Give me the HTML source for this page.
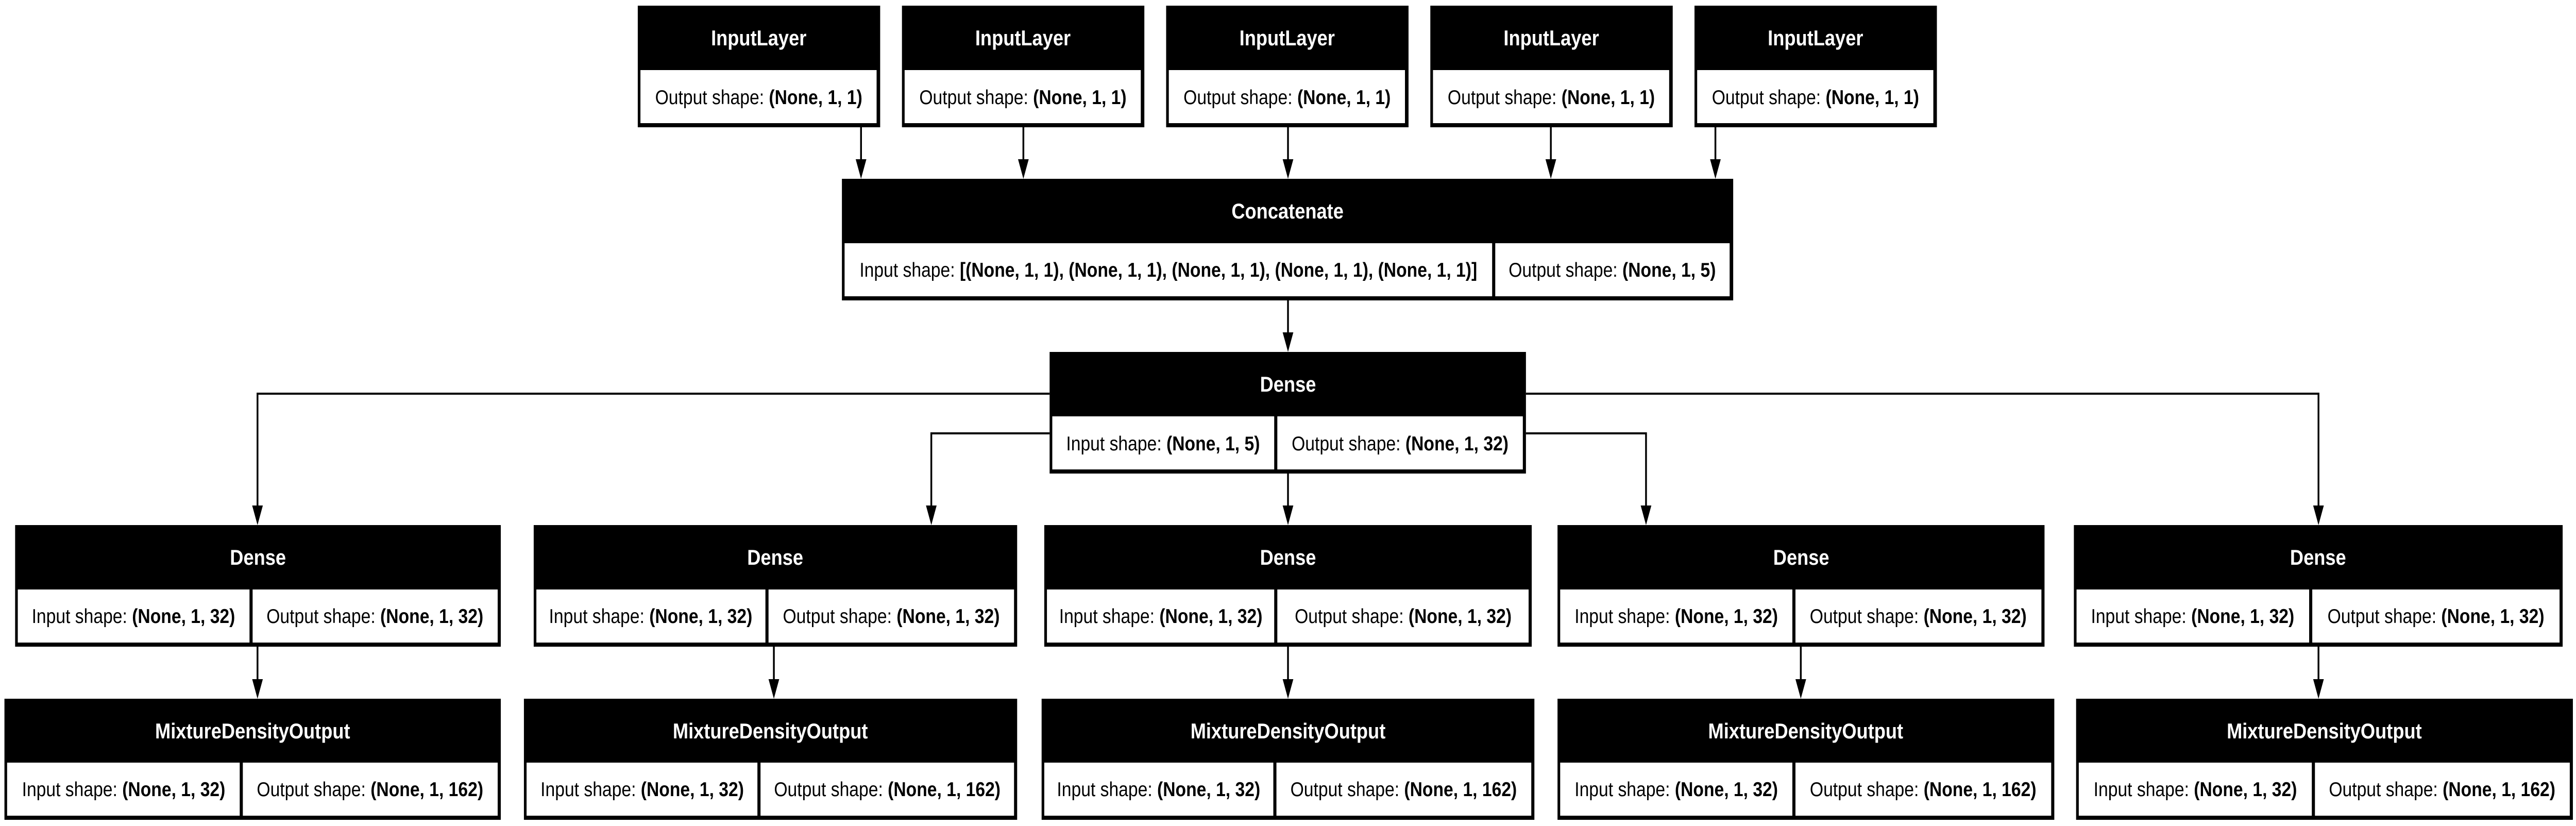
<!DOCTYPE html>
<html><head><meta charset="utf-8"><style>
html,body{margin:0;padding:0;background:#fff;width:100%;height:100%;overflow:hidden}
svg{display:block;width:100vw;height:100vh}
text{font-family:"Liberation Sans",Arial,sans-serif}
.t{fill:#fff;font-size:42px;font-weight:bold;text-anchor:middle}
.c{fill:#000;font-size:39px;text-anchor:middle}
.b{font-weight:bold}
.w{fill:#fff}
.l{stroke:#000;stroke-width:4;fill:none}
</style></head><body>
<svg viewBox="0 0 5792 1603" preserveAspectRatio="none" xmlns="http://www.w3.org/2000/svg">
<rect width="5792" height="1603" fill="#fff"/>

<g>
<rect x="1434" y="11" width="545" height="236"/><rect class="w" x="1440" y="136" width="531" height="103"/>
<text class="t" x="1706" y="88">InputLayer</text><text class="c" x="1706" y="202">Output shape: <tspan class="b">(None, 1, 1)</tspan></text>
<rect x="2028" y="11" width="545" height="236"/><rect class="w" x="2034" y="136" width="531" height="103"/>
<text class="t" x="2300" y="88">InputLayer</text><text class="c" x="2300" y="202">Output shape: <tspan class="b">(None, 1, 1)</tspan></text>
<rect x="2622" y="11" width="545" height="236"/><rect class="w" x="2628" y="136" width="531" height="103"/>
<text class="t" x="2894" y="88">InputLayer</text><text class="c" x="2894" y="202">Output shape: <tspan class="b">(None, 1, 1)</tspan></text>
<rect x="3216" y="11" width="545" height="236"/><rect class="w" x="3222" y="136" width="531" height="103"/>
<text class="t" x="3488" y="88">InputLayer</text><text class="c" x="3488" y="202">Output shape: <tspan class="b">(None, 1, 1)</tspan></text>
<rect x="3810" y="11" width="545" height="236"/><rect class="w" x="3816" y="136" width="531" height="103"/>
<text class="t" x="4082" y="88">InputLayer</text><text class="c" x="4082" y="202">Output shape: <tspan class="b">(None, 1, 1)</tspan></text>
</g>

<path class="l" d="M1936 247V311M2301 247V311M2896 247V311M3487 247V311M3857 247V311"/>
<polygon points="1936,347 1924,309 1948,309"/>
<polygon points="2301,347 2289,309 2313,309"/>
<polygon points="2896,347 2884,309 2908,309"/>
<polygon points="3487,347 3475,309 3499,309"/>
<polygon points="3857,347 3845,309 3869,309"/>

<rect x="1893" y="347" width="2004" height="236"/>
<rect class="w" x="1899" y="472" width="1456" height="103"/>
<rect class="w" x="3362" y="472" width="527" height="103"/>
<text class="t" x="2895" y="424">Concatenate</text>
<text class="c" x="2627" y="537">Input shape: <tspan class="b">[(None, 1, 1), (None, 1, 1), (None, 1, 1), (None, 1, 1), (None, 1, 1)]</tspan></text>
<text class="c" x="3625" y="537">Output shape: <tspan class="b">(None, 1, 5)</tspan></text>

<path class="l" d="M2896 583V647"/>
<polygon points="2896,683 2884,645 2908,645"/>

<rect x="2360" y="683" width="1071" height="236"/>
<rect class="w" x="2366" y="808" width="499" height="103"/>
<rect class="w" x="2872" y="808" width="552" height="103"/>
<text class="t" x="2896" y="760">Dense</text>
<text class="c" x="2615" y="874">Input shape: <tspan class="b">(None, 1, 5)</tspan></text>
<text class="c" x="3148" y="874">Output shape: <tspan class="b">(None, 1, 32)</tspan></text>

<path class="l" d="M2360 764H579V983M3431 764H5213V983M2360 841H2094V983M3431 841H3701V983M2896 919V983"/>
<polygon points="579,1019 567,981 591,981"/>
<polygon points="2094,1019 2082,981 2106,981"/>
<polygon points="2896,1019 2884,981 2908,981"/>
<polygon points="3701,1019 3689,981 3713,981"/>
<polygon points="5213,1019 5201,981 5225,981"/>

<g>
<rect x="34" y="1019" width="1092" height="236"/><rect class="w" x="40" y="1144" width="521" height="103"/><rect class="w" x="568" y="1144" width="551" height="103"/>
<text class="t" x="580" y="1096">Dense</text>
<text class="c" x="300" y="1209">Input shape: <tspan class="b">(None, 1, 32)</tspan></text>
<text class="c" x="843" y="1209">Output shape: <tspan class="b">(None, 1, 32)</tspan></text>

<rect x="1200" y="1019" width="1087" height="236"/><rect class="w" x="1206" y="1144" width="515" height="103"/><rect class="w" x="1728" y="1144" width="552" height="103"/>
<text class="t" x="1743" y="1096">Dense</text>
<text class="c" x="1463" y="1209">Input shape: <tspan class="b">(None, 1, 32)</tspan></text>
<text class="c" x="2004" y="1209">Output shape: <tspan class="b">(None, 1, 32)</tspan></text>

<rect x="2348" y="1019" width="1096" height="236"/><rect class="w" x="2354" y="1144" width="511" height="103"/><rect class="w" x="2872" y="1144" width="565" height="103"/>
<text class="t" x="2896" y="1096">Dense</text>
<text class="c" x="2610" y="1209">Input shape: <tspan class="b">(None, 1, 32)</tspan></text>
<text class="c" x="3155" y="1209">Output shape: <tspan class="b">(None, 1, 32)</tspan></text>

<rect x="3502" y="1019" width="1095" height="236"/><rect class="w" x="3508" y="1144" width="522" height="103"/><rect class="w" x="4037" y="1144" width="553" height="103"/>
<text class="t" x="4050" y="1096">Dense</text>
<text class="c" x="3769" y="1209">Input shape: <tspan class="b">(None, 1, 32)</tspan></text>
<text class="c" x="4313" y="1209">Output shape: <tspan class="b">(None, 1, 32)</tspan></text>

<rect x="4663" y="1019" width="1099" height="236"/><rect class="w" x="4669" y="1144" width="523" height="103"/><rect class="w" x="5199" y="1144" width="556" height="103"/>
<text class="t" x="5212" y="1096">Dense</text>
<text class="c" x="4930" y="1209">Input shape: <tspan class="b">(None, 1, 32)</tspan></text>
<text class="c" x="5477" y="1209">Output shape: <tspan class="b">(None, 1, 32)</tspan></text>
</g>

<path class="l" d="M579 1255V1320M1740 1255V1320M2896 1255V1320M4049 1255V1320M5213 1255V1320"/>
<polygon points="579,1356 567,1318 591,1318"/>
<polygon points="1740,1356 1728,1318 1752,1318"/>
<polygon points="2896,1356 2884,1318 2908,1318"/>
<polygon points="4049,1356 4037,1318 4061,1318"/>
<polygon points="5213,1356 5201,1318 5225,1318"/>

<g>
<rect x="10" y="1356" width="1116" height="235"/><rect class="w" x="16" y="1480" width="523" height="103"/><rect class="w" x="546" y="1480" width="573" height="103"/>
<text class="t" x="568" y="1433">MixtureDensityOutput</text>
<text class="c" x="278" y="1545">Input shape: <tspan class="b">(None, 1, 32)</tspan></text>
<text class="c" x="832" y="1545">Output shape: <tspan class="b">(None, 1, 162)</tspan></text>

<rect x="1178" y="1356" width="1109" height="235"/><rect class="w" x="1184" y="1480" width="519" height="103"/><rect class="w" x="1710" y="1480" width="570" height="103"/>
<text class="t" x="1732" y="1433">MixtureDensityOutput</text>
<text class="c" x="1444" y="1545">Input shape: <tspan class="b">(None, 1, 32)</tspan></text>
<text class="c" x="1995" y="1545">Output shape: <tspan class="b">(None, 1, 162)</tspan></text>

<rect x="2342" y="1356" width="1108" height="235"/><rect class="w" x="2348" y="1480" width="515" height="103"/><rect class="w" x="2870" y="1480" width="573" height="103"/>
<text class="t" x="2896" y="1433">MixtureDensityOutput</text>
<text class="c" x="2605" y="1545">Input shape: <tspan class="b">(None, 1, 32)</tspan></text>
<text class="c" x="3156" y="1545">Output shape: <tspan class="b">(None, 1, 162)</tspan></text>

<rect x="3502" y="1356" width="1117" height="235"/><rect class="w" x="3508" y="1480" width="522" height="103"/><rect class="w" x="4037" y="1480" width="575" height="103"/>
<text class="t" x="4060" y="1433">MixtureDensityOutput</text>
<text class="c" x="3769" y="1545">Input shape: <tspan class="b">(None, 1, 32)</tspan></text>
<text class="c" x="4324" y="1545">Output shape: <tspan class="b">(None, 1, 162)</tspan></text>

<rect x="4668" y="1356" width="1117" height="235"/><rect class="w" x="4674" y="1480" width="524" height="103"/><rect class="w" x="5205" y="1480" width="573" height="103"/>
<text class="t" x="5226" y="1433">MixtureDensityOutput</text>
<text class="c" x="4936" y="1545">Input shape: <tspan class="b">(None, 1, 32)</tspan></text>
<text class="c" x="5491" y="1545">Output shape: <tspan class="b">(None, 1, 162)</tspan></text>
</g>
</svg>
</body></html>
